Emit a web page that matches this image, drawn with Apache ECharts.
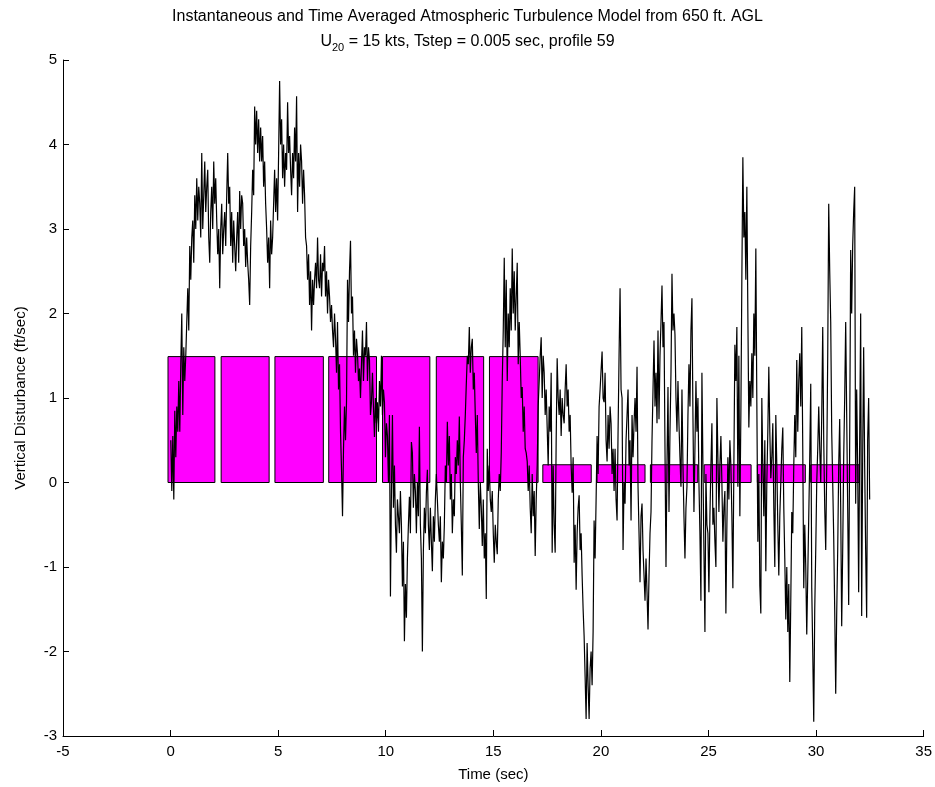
<!DOCTYPE html>
<html>
<head>
<meta charset="utf-8">
<script src="https://cdn.jsdelivr.net/npm/echarts@6/dist/echarts.min.js"></script>
<style>html,body{margin:0;padding:0;background:#fff;}#c{width:935px;height:787px;}</style>
</head>
<body>
<div id="c"></div>
<script>
// Time-averaged blocks (seconds, ft/sec)
const barStart = [-0.12, 2.35, 4.85, 7.35, 9.85, 12.35, 14.82, 17.3, 19.82, 22.3, 24.8, 27.27, 29.75];
const barEnd   = [2.06, 4.58, 7.1, 9.57, 12.05, 14.55, 17.08, 19.55, 22.05, 24.5, 26.98, 29.5, 32.0];
const barHeight = [1.49, 1.49, 1.49, 1.49, 1.49, 1.49, 1.49, 0.21, 0.21, 0.21, 0.21, 0.21, 0.21];

// Instantaneous signal, decimated samples
const t0 = 0.01;      // first sample time (sec)
const dt = 0.0464;    // decimated sample step (sec)
const w = [
0.5,-0.1,0.55,-0.2,0.85,0.3,0.9,0.6,1.2,0.6,
1.4,2.0,0.8,1.6,1.2,1.5,1.9,2.3,1.8,2.8,
2.4,2.9,3.1,2.6,3.4,3.0,3.6,3.1,3.5,3.3,
2.9,3.9,3.0,3.4,3.8,3.2,3.5,3.7,2.9,2.6,
3.2,3.5,3.0,3.8,3.3,3.6,3.1,2.7,3.0,2.3,
3.0,3.3,2.7,3.0,3.2,2.8,3.4,3.9,3.3,3.5,
2.8,3.2,2.6,3.1,2.8,2.5,2.9,3.2,2.6,3.45,
3.0,3.4,3.3,2.8,3.0,2.55,2.9,2.6,2.4,2.1,
2.8,3.2,3.7,3.4,4.45,4.0,4.4,3.9,4.3,3.8,
4.2,3.8,4.1,3.5,3.8,3.3,3.0,2.6,2.9,2.3,
3.1,2.7,2.9,3.3,3.7,3.2,3.6,3.1,3.9,4.75,
4.0,4.3,3.6,4.0,3.5,3.9,3.7,4.5,3.9,4.1,
3.7,3.4,3.9,3.6,4.2,3.8,4.57,3.2,3.9,3.5,
4.0,3.8,3.3,3.7,3.4,2.9,2.8,2.4,2.7,2.1,
2.5,1.8,2.4,2.1,2.4,2.6,2.3,2.9,2.4,2.3,
2.7,2.2,2.6,2.5,2.8,2.2,2.5,2.0,2.4,2.2,
1.9,2.1,1.8,1.6,2.0,1.7,1.3,1.9,1.1,1.4,
0.6,0.15,-0.4,0.4,0.9,0.5,0.95,2.4,1.9,2.5,
2.86,2.0,2.2,1.5,1.8,1.3,1.7,1.53,1.2,1.35,
1.0,1.4,1.8,1.2,1.6,1.5,1.9,1.2,1.6,1.45,
0.8,0.95,1.3,0.9,0.54,1.0,0.7,0.95,0.6,1.2,
0.9,1.5,0.8,1.1,0.95,0.3,0.7,0.55,0.0,0.8,
-1.35,-0.1,0.8,-0.3,0.2,-0.5,-0.83,-0.2,-0.4,-0.6,
-0.1,-0.5,-1.23,-0.7,-1.88,-1.2,-1.6,-0.9,-0.5,-0.17,
-0.6,0.48,0.35,-0.3,0.1,-0.1,-0.6,0.0,-0.4,0.66,
-0.5,-0.9,-2.0,-0.8,-0.3,-0.6,-0.12,0.15,-0.5,-0.8,
-0.3,-0.7,-1.05,-0.4,-0.7,-0.2,0.1,-0.2,-0.5,-0.7,
-0.4,-1.18,-0.7,-0.9,-0.5,0.2,0.0,0.72,0.2,0.55,
-0.2,0.1,-0.6,-0.2,-0.4,0.3,0.1,0.5,0.2,0.78,
0.0,-0.5,-1.1,0.3,0.5,0.8,1.17,1.5,1.4,1.84,
1.3,1.6,1.7,1.1,1.3,0.8,0.35,0.8,0.0,-0.55,
0.0,-0.3,-0.75,-0.2,-0.9,-0.6,-1.38,0.4,-0.1,0.2,
-0.2,-0.35,-0.1,-0.6,-0.95,-0.5,-0.7,-0.85,-0.2,0.1,
-0.1,0.35,1.2,1.8,2.66,1.6,2.4,1.2,2.0,1.6,
2.3,1.8,2.77,2.0,2.5,1.8,2.2,2.6,1.4,1.9,
1.5,1.0,1.13,0.6,0.9,0.4,0.35,0.25,-0.1,0.2,
-0.3,-0.6,0.1,-0.4,-0.1,-0.87,-0.2,0.2,0.9,1.2,
1.5,1.72,1.0,1.5,1.3,0.8,1.1,0.65,0.2,0.9,
0.6,1.3,-0.83,0.2,-0.5,-0.83,0.5,1.47,1.0,0.8,
1.1,0.55,1.0,0.8,0.7,1.1,1.4,0.9,1.1,0.6,
0.8,0.2,-0.12,0.3,-0.95,-0.5,-1.27,-0.6,-0.3,-0.15,
-0.8,-0.6,-1.1,-1.5,-1.82,-2.3,-2.8,-1.9,-2.4,-2.8,
-2.2,-2.0,-2.4,-1.77,-0.45,-0.9,-0.2,0.55,0.1,0.9,
1.1,1.33,1.55,1.0,0.95,1.3,0.5,0.25,0.8,0.4,
0.9,0.7,0.1,0.4,-0.1,0.4,-0.2,-0.45,0.6,1.5,
2.3,1.1,1.0,-0.8,0.0,-0.25,0.5,0.8,1.1,0.2,
0.5,-0.45,0.8,0.3,0.7,1.0,0.6,1.37,-0.05,-0.6,
-1.18,-0.4,-0.25,-0.8,-1.1,-1.4,-0.9,-1.3,-1.74,-1.1,
-0.6,-0.35,0.5,1.1,1.68,0.9,1.3,0.7,1.8,0.75,
1.5,1.9,2.33,1.6,1.9,0.4,-1.0,0.2,1.13,-0.35,
0.6,1.3,2.47,1.8,2.0,1.75,1.0,0.6,1.2,0.7,
0.3,-0.05,1.1,0.2,-0.4,-0.9,-0.3,-0.05,0.8,1.4,
0.9,1.8,2.18,0.8,-0.35,0.4,1.2,0.6,1.0,0.0,
-0.6,-1.4,1.3,0.2,-0.8,-1.77,0.1,-0.5,-0.6,-1.3,
-0.4,0.2,0.7,-0.5,-0.3,-0.7,-1.0,1.0,0.3,-0.35,
0.2,0.55,0.0,-0.7,-0.3,-0.1,-1.55,-0.5,0.3,-0.2,
0.5,0.2,-0.4,-1.25,0.2,1.63,1.2,1.84,-0.05,1.5,
-0.4,0.8,2.43,3.85,2.9,3.2,2.4,3.5,2.0,0.65,
1.2,0.9,1.53,1.0,2.0,1.5,2.77,0.95,-0.7,0.1,
-1.22,-1.55,1.0,0.2,-0.4,0.5,-1.05,0.0,0.6,1.37,
0.6,0.05,0.3,0.7,-0.3,-1.0,0.8,0.2,-0.5,-1.1,
-0.4,0.0,0.4,0.65,-0.3,-0.9,-1.62,-1.0,-1.77,-1.2,
-2.36,-1.4,-0.35,-0.6,0.2,0.8,0.3,1.45,0.6,1.2,
1.53,0.9,1.84,0.4,-1.25,-0.5,-1.0,-1.8,-1.1,-0.4,
0.3,1.17,-1.25,-2.0,-2.83,-1.5,-0.8,0.0,0.4,0.9,
0.4,0.0,0.8,1.84,0.5,-0.3,-0.8,0.2,1.5,3.3,
2.5,1.9,0.6,0.0,-0.65,-1.5,-2.5,-1.55,-0.8,0.2,
0.75,-0.3,-1.7,-0.8,0.3,1.0,1.9,0.8,-0.3,-1.45,
0.5,2.75,2.0,2.8,3.2,3.5,-0.25,1.1,0.2,-1.3,
0.5,2.0,-1.58,0.3,1.6,0.2,-0.8,-1.6,0.5,1.0,
-0.2
];

// Axis ticks
const xMin = -5, xMax = 35, xStep = 5;
const yMin = -3, yMax = 5, yStep = 1;

const titleLine1 = 'Instantaneous and Time Averaged Atmospheric Turbulence Model from 650 ft. AGL';
const xName = 'Time (sec)';
const yName = 'Vertical Disturbance (ft/sec)';

const FONT = '"Liberation Sans", Arial, sans-serif';
const barData = barStart.map((s, i) => [s, barEnd[i], barHeight[i]]);
const lineData = w.map((v, i) => [t0 + i * dt, v]);

const chart = echarts.init(document.getElementById('c'), null, {renderer: 'canvas'});
chart.setOption({
  animation: false,
  backgroundColor: '#fff',
  title: [
    {text: titleLine1, left: 'center', top: 4,
     textStyle: {fontFamily: FONT, fontSize: 16, fontWeight: 'normal', color: '#000'}},
    {text: '{n|U}{s|20}{n| = 15 kts, Tstep = 0.005 sec, profile 59}', left: 'center', top: 29,
     textStyle: {fontFamily: FONT, fontSize: 16, fontWeight: 'normal', color: '#000',
       rich: {n: {fontFamily: FONT, fontSize: 16, color: '#000', verticalAlign: 'bottom'},
              s: {fontFamily: FONT, fontSize: 11, color: '#000', verticalAlign: 'bottom', padding: [0,0,-3,0]}}}}
  ],
  grid: {left: 63, right: 10, top: 60, bottom: 50, containLabel: false},
  xAxis: {
    type: 'value', min: xMin, max: xMax, interval: xStep,
    name: xName, nameLocation: 'middle', nameGap: 31,
    nameTextStyle: {fontFamily: FONT, fontSize: 15, color: '#000'},
    axisLine: {show: true, onZero: false, lineStyle: {color: '#000', width: 1}},
    axisTick: {show: true, inside: true, length: 6, lineStyle: {color: '#000'}},
    axisLabel: {fontFamily: FONT, fontSize: 15, color: '#000', margin: 8},
    splitLine: {show: false}
  },
  yAxis: {
    type: 'value', min: yMin, max: yMax, interval: yStep,
    name: yName, nameLocation: 'middle', nameGap: 35,
    nameTextStyle: {fontFamily: FONT, fontSize: 15, color: '#000'},
    axisLine: {show: true, onZero: false, lineStyle: {color: '#000', width: 1}},
    axisTick: {show: true, inside: true, length: 6, lineStyle: {color: '#000'}},
    axisLabel: {fontFamily: FONT, fontSize: 15, color: '#000', margin: 6},
    splitLine: {show: false}
  },
  series: [
    {
      type: 'custom', z: 2,
      renderItem: function (params, api) {
        const a = api.coord([api.value(0), api.value(2)]);
        const b = api.coord([api.value(1), 0]);
        return {type: 'rect',
          shape: {x: a[0], y: a[1], width: b[0] - a[0], height: b[1] - a[1]},
          style: {fill: '#ff00ff', stroke: '#000', lineWidth: 1}};
      },
      encode: {x: [0, 1], y: 2},
      data: barData
    },
    {
      type: 'line', z: 3, data: lineData, showSymbol: false, symbol: 'none',
      sampling: null, smooth: false,
      lineStyle: {color: '#000', width: 1.2}
    }
  ]
});
</script>
</body>
</html>
